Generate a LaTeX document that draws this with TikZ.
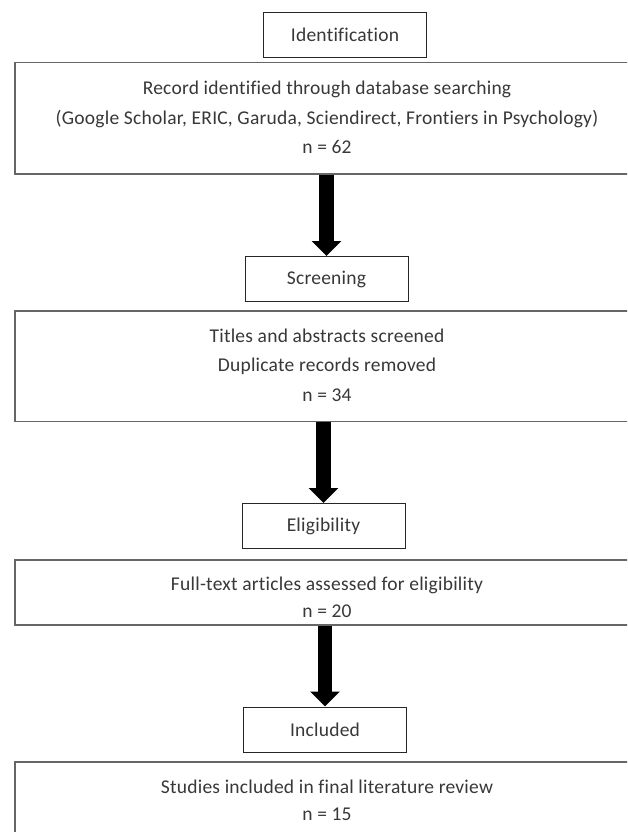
\documentclass[tikz,border=0pt]{standalone}
\usepackage{fontspec}
\setmainfont[Ligatures={NoCommon},LetterSpace=1.2]{Carlito}
\usetikzlibrary{arrows.meta}
\begin{document}
\begin{tikzpicture}[x=1pt,y=-1pt,
  every node/.style={font=\fontsize{19.5}{29.5}\selectfont, text=black!78},
  smallbox/.style={draw=black!85, line width=1pt, minimum width=163pt, minimum height=45pt, inner sep=0pt},
  bigbox/.style={draw=black!60, line width=1.6pt, anchor=north west, minimum width=640pt, inner sep=0pt},
  txt/.style={align=center, inner sep=0pt},
  txtb/.style={align=center, inner sep=0pt, font=\fontsize{19.5}{27}\selectfont},
  bigarrow/.style={line width=14.5pt, -{Triangle[width=29pt,length=15pt]}, draw=black}]
\useasboundingbox (0,0) rectangle (627,832);
\fill[white] (0,0) rectangle (627,832);
\clip (0,0) rectangle (627,832);

\node[smallbox] (ident) at (345,35) {Identification};
\node[bigbox, minimum height=111.5pt] (rec) at (14.3,61.7) {};
\node[txt] (rectext) at (327,117.5) {Record identified through database searching\\(Google Scholar, ERIC, Garuda, Sciendirect, Frontiers in Psychology)\\n = 62};

\node[smallbox] (scr) at (326.5,279) {Screening};
\node[bigbox, minimum height=110.7pt] (dup) at (14.3,310) {};
\node[txt] (duptext) at (327,365) {Titles and abstracts screened\\Duplicate records removed\\n = 34};

\node[smallbox] (elig) at (323.5,526) {Eligibility};
\node[bigbox, minimum height=64.7pt] (full) at (14.3,559.3) {};
\node[txtb] (fulltext) at (327,597) {Full-text articles assessed for eligibility\\n = 20};

\node[smallbox] (incl) at (325,729.5) {Included};
\node[bigbox, minimum height=120pt] (stud) at (14.3,761) {};
\node[txtb] (studtext) at (327,800) {Studies included in final literature review\\n = 15};

\draw[bigarrow] (rec.south -| scr.north) -- (scr.north);
\draw[bigarrow] (dup.south -| elig.north) -- (elig.north);
\draw[bigarrow] (full.south -| incl.north) -- (incl.north);
\end{tikzpicture}
\end{document}
